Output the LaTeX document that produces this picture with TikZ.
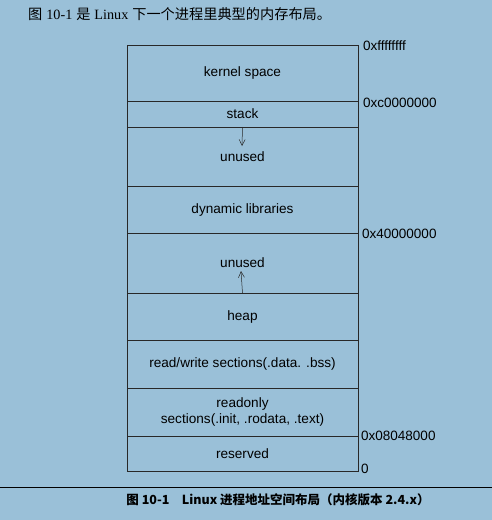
\documentclass[tikz,border=0pt]{standalone}
\usepackage{fontspec}
\setmainfont{Liberation Sans}
\newfontfamily\cjk{Noto Sans CJK SC}
\newfontfamily\serifl{Liberation Serif}
\usetikzlibrary{arrows.meta, positioning}
\definecolor{bgblue}{RGB}{154,192,216}
\definecolor{inkgrey}{RGB}{40,40,40}

\begin{document}
\begin{tikzpicture}[x=1pt, y=-1pt,
  seg/.style={draw=inkgrey, line width=.5pt, anchor=north, minimum width=231pt, inner sep=0pt, outer sep=0pt, font=\fontsize{13.6}{16}\selectfont, align=center},
  addr/.style={anchor=west, inner sep=0pt, font=\fontsize{13.5}{15}\selectfont},
  growarrow/.style={-{Straight Barb[length=6pt, width=6pt]}, draw=inkgrey, line width=.5pt}]
  \fill[bgblue] (0,0) rectangle (492,520);
  \useasboundingbox (0,0) rectangle (492,520);

  % intro line
  \node[anchor=west, inner sep=0pt, font=\fontsize{14.2}{16}\selectfont] (intro) at (28,14)
    {{\cjk 图} {\serifl 10-1} {\cjk 是} {\serifl Linux} {\cjk 下一个进程里典型的内存布局。}};

  % memory regions
  \node[seg, minimum height=56pt] (kernel) at (242.5,45) {kernel space};
  \node[seg, minimum height=26pt] (stack) at (242.5,101) {stack};
  \node[seg, minimum height=59pt] (unused1) at (242.5,127) {unused};
  \node[seg, minimum height=47pt] (dynlib) at (242.5,186) {dynamic libraries};
  \node[seg, minimum height=60pt] (unused2) at (242.5,233) {unused};
  \node[seg, minimum height=47pt] (heap) at (242.5,293) {heap};
  \node[seg, minimum height=48pt] (rwsec) at (242.5,340) {read/write sections(.data. .bss)};
  \node[seg, minimum height=48pt] (rosec) at (242.5,388) {readonly\\sections(.init, .rodata, .text)};
  \node[seg, minimum height=35pt] (reserved) at (242.5,436) {reserved};

  % growth arrows
  \coordinate (stackend) at (242,146);
  \coordinate (heapend) at (241,271);
  \draw[growarrow] (stack.south) -- (stackend);
  \draw[growarrow] (heap.north) -- (heapend);

  % addresses
  \node[addr] (a1) at (363,46) {0xffffffff};
  \node[addr] (a2) at (363,103) {0xc0000000};
  \node[addr] (a3) at (362,234) {0x40000000};
  \node[addr] (a4) at (361,436) {0x08048000};
  \node[addr] (a5) at (361,469) {0};

  % caption
  \draw[black, line width=1pt] (0,487) -- (492,487);
  \node[inner sep=0pt, font=\cjk\bfseries\fontsize{12.5}{14}\selectfont] (caption) at (278,500)
    {图 10-1\quad Linux 进程地址空间布局（内核版本 2.4.x）};
\end{tikzpicture}
\end{document}
